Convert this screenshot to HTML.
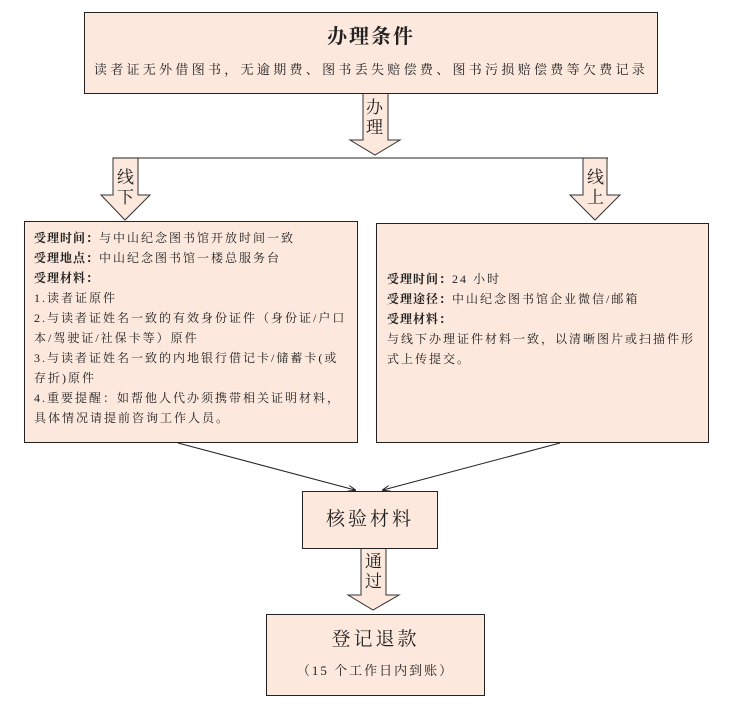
<!DOCTYPE html>
<html><head><meta charset="utf-8"><style>
body{margin:0;width:730px;height:709px;background:#fff;position:relative;font-family:"Liberation Serif","Noto Serif CJK SC","Noto Sans CJK SC",serif;overflow:hidden}
.b{position:absolute;background:#fce8dc;border:1px solid #222;box-sizing:border-box}
.t{position:absolute;font-size:12px;line-height:20px;color:#222;letter-spacing:2px}
b{font-weight:bold;letter-spacing:1px}
</style></head><body>
<svg width="730" height="709" style="position:absolute;left:0;top:0">
<defs><marker id="m" markerWidth="8" markerHeight="6" refX="7" refY="3" orient="auto"><path d="M0,0 L8,3 L0,6" fill="none" stroke="#222"/></marker></defs>
<g fill="#fce8dc" stroke="#333" stroke-width="1">
<polygon points="363,93 388,93 388,140 400,140 375,155 350,140 363,140"/>
<polygon points="113,158 138,158 138,195 150,195 125,220 101,195 113,195"/>
<polygon points="583,158 607,158 607,195 620,195 595,220 570,195 583,195"/>
<polygon points="361,548 386,548 386,595 399,595 373,610 348,595 361,595"/>
</g>
<line x1="113" y1="158" x2="608" y2="158" stroke="#222"/>
<line x1="178" y1="443" x2="355" y2="490" stroke="#222" marker-end="url(#m)"/>
<line x1="560" y1="443" x2="383" y2="490" stroke="#222" marker-end="url(#m)"/>
</svg>
<div class="b" style="left:84px;top:12px;width:574px;height:82px"></div>
<div class="t" style="left:84px;top:24px;width:574px;text-align:center;font-size:20px;line-height:26px;font-weight:bold;letter-spacing:2px">办理条件</div>
<div class="t" style="left:84px;top:60px;width:574px;text-align:center;font-size:13px;letter-spacing:3.3px">读者证无外借图书，无逾期费、图书丢失赔偿费、图书污损赔偿费等欠费记录</div>
<div class="t" style="left:366px;top:98px;font-size:17px;line-height:20px">办<br>理</div>
<div class="t" style="left:117px;top:168px;font-size:17px;line-height:20px">线<br>下</div>
<div class="t" style="left:587px;top:168px;font-size:17px;line-height:20px">线<br>上</div>
<div class="t" style="left:365px;top:552px;font-size:17px;line-height:20px">通<br>过</div>
<div class="b" style="left:24px;top:221px;width:334px;height:222px"></div>
<div class="t" style="left:34px;top:228px;width:320px"><b>受理时间：</b>与中山纪念图书馆开放时间一致<br><b>受理地点：</b>中山纪念图书馆一楼总服务台<br><b>受理材料：</b><br>1.读者证原件<br>2.与读者证姓名一致的有效身份证件（身份证/户口<br>本/驾驶证/社保卡等）原件<br>3.与读者证姓名一致的内地银行借记卡/储蓄卡(或<br>存折)原件<br>4.重要提醒：如帮他人代办须携带相关证明材料，<br>具体情况请提前咨询工作人员。</div>
<div class="b" style="left:376px;top:223px;width:333px;height:220px"></div>
<div class="t" style="left:387px;top:269px;width:320px"><b>受理时间：</b>24 小时<br><b>受理途径：</b>中山纪念图书馆企业微信/邮箱<br><b>受理材料：</b><br>与线下办理证件材料一致，以清晰图片或扫描件形<br>式上传提交。</div>
<div class="b" style="left:302px;top:491px;width:136px;height:58px"></div>
<div class="t" style="left:302px;top:507px;width:136px;text-align:center;font-size:19px;line-height:26px;letter-spacing:3px">核验材料</div>
<div class="b" style="left:266px;top:614px;width:219px;height:82px"></div>
<div class="t" style="left:266px;top:627px;width:219px;text-align:center;font-size:19px;line-height:26px;letter-spacing:3px">登记退款</div>
<div class="t" style="left:266px;top:661px;width:219px;text-align:center;font-size:13px;letter-spacing:2px">（15 个工作日内到账）</div>
</body></html>
